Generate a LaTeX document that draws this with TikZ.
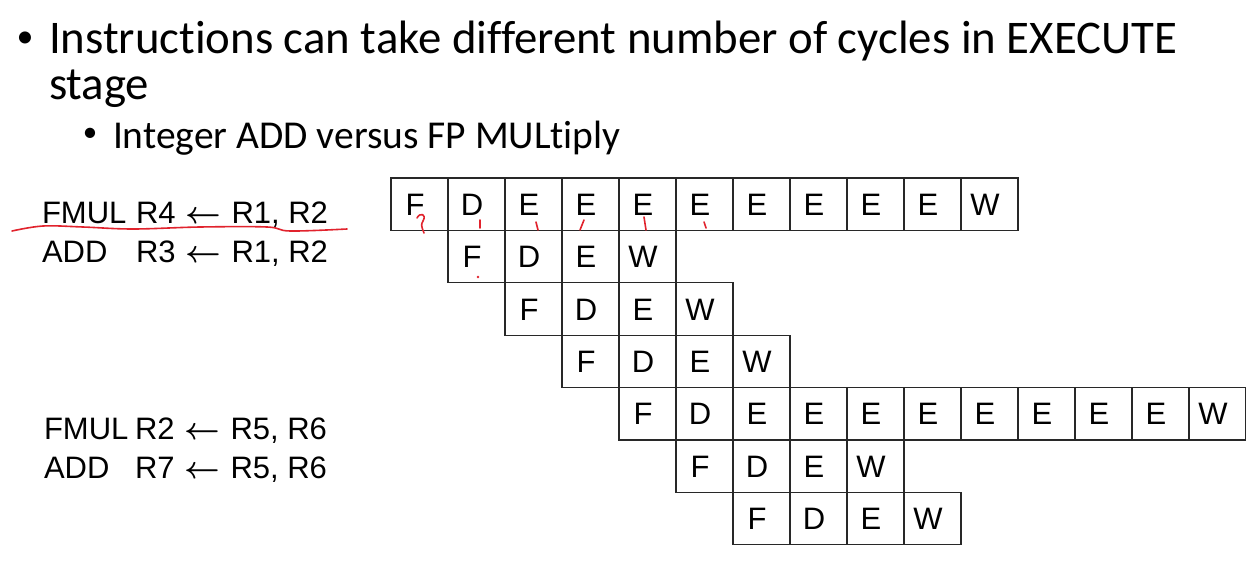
\RequirePackage{fix-cm}
\documentclass[tikz,border=0pt]{standalone}
\usepackage{fontspec}
\setmainfont{Carlito}[Ligatures={NoCommon,NoContextual}]
\newfontfamily\arialf{Liberation Sans}
\definecolor{pen}{RGB}{225,35,45}
\definecolor{gridc}{RGB}{40,40,40}
\newcommand{\larr}{\kern1.5pt{\boldmath$\leftarrow$}\kern1.5pt}
\begin{document}
\begin{tikzpicture}[x=1pt,y=-1pt,
  every node/.style={inner sep=0pt, outer sep=0pt},
  title/.style={anchor=base west, font=\fontsize{46.8}{54}\selectfont},
  subt/.style={anchor=base west, font=\fontsize{39.5}{46}\selectfont},
  bul/.style={anchor=center, font=\fontsize{34}{40}\selectfont},
  instr/.style={anchor=base west, font=\arialf\fontsize{31}{37}\selectfont},
  cell/.style={draw=gridc, line width=1.2pt, minimum width=57pt, minimum height=52.4pt,
    font=\arialf\fontsize{31}{37}\selectfont, text height=22.2pt, text depth=0pt},
  ink/.style={draw=pen, line width=1.6pt, line cap=round, line join=round}]
\useasboundingbox (0,0) rectangle (1246,578);

% bullets and title text
\node[bul] (b1) at (25,40) {•};
\node[title] (t1) at (49,54) {Instructions can take different number of cycles in EXECUTE};
\node[title] (t2) at (49,99) {stage};
\node[bul, font=\fontsize{29}{34}\selectfont] (b2) at (90,135) {•};
\node[subt] (t3) at (113,148) {Integer ADD versus FP MULtiply};

% instructions
\node[instr] (i1a) at (42,223) {FMUL};
\node[instr] (i1b) at (136,223) {R4 \larr\ R1, R2};
\node[instr] (i2a) at (42,262) {ADD};
\node[instr] (i2b) at (136,262) {R3 \larr\ R1, R2};
\node[instr] (i3a) at (44,439) {FMUL};
\node[instr] (i3b) at (135,439) {R2 \larr\ R5, R6};
\node[instr] (i4a) at (44,478) {ADD};
\node[instr] (i4b) at (135,478) {R7 \larr\ R5, R6};

% pipeline cells
\foreach \r/\s/\seq in {0/0/{F,D,E,E,E,E,E,E,E,E,W},
                         1/1/{F,D,E,W},
                         2/2/{F,D,E,W},
                         3/3/{F,D,E,W},
                         4/4/{F,D,E,E,E,E,E,E,E,E,W},
                         5/5/{F,D,E,W},
                         6/6/{F,D,E,W}}{
  \foreach \l [count=\k from 0] in \seq {
    \node[cell] (c\r-\k) at ({391+57*(\s+\k)+28.5},{178+52.4*\r+26.2}) {\kern-9pt\l};
  }
}

% red hand annotations
\draw[ink] plot[smooth, tension=0.6] coordinates {(12,231) (43,226) (83,227) (133,229) (200,227) (267,227) (290,231) (347,229)};
\draw[ink] (417,218) .. controls (420,212) and (427,214) .. (423,221) .. controls (421,225) .. (424,233);
\draw[ink] (480,220) -- (480,228);
\draw[ink] (536,222) -- (538,230);
\draw[ink] (584,220) -- (580,230);
\draw[ink] (644,217) -- (646,230);
\draw[ink] (704,222) -- (706,228);
\fill[pen] (478,277) circle (1.3);
\end{tikzpicture}
\end{document}
